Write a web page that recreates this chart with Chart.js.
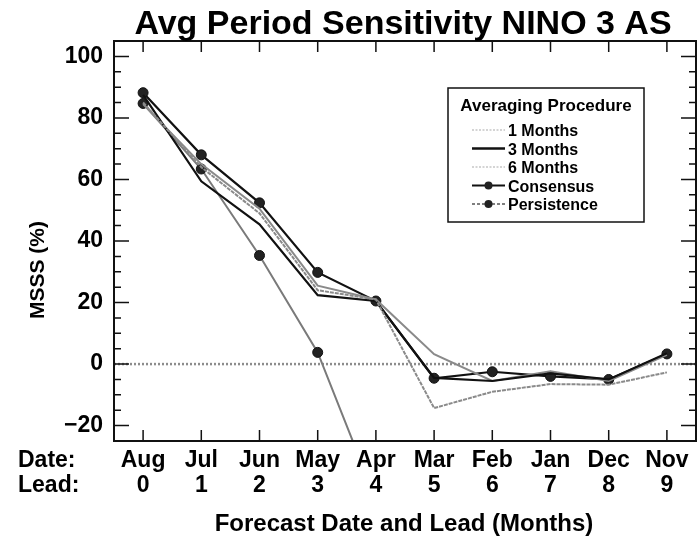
<!DOCTYPE html>
<html>
<head>
<meta charset="utf-8">
<script src="https://cdn.jsdelivr.net/npm/chart.js@4.4.0/dist/chart.umd.min.js"></script>
<style>
    html, body { margin: 0; padding: 0; background: #fff; }
</style>
</head>
<body>
<canvas id="sensChart" width="697" height="537"></canvas>
<script>
var dates = ["Aug", "Jul", "Jun", "May", "Apr", "Mar", "Feb", "Jan", "Dec", "Nov"];
var leads = [0, 1, 2, 3, 4, 5, 6, 7, 8, 9];
var yTicks = [-20, 0, 20, 40, 60, 80, 100];

var oneMonth    = [85, 64, 49, 24, 21, -14.3, -9, -6.5, -6.7, -2.7];
var threeMonth  = [87.5, 59.4, 45.4, 22.4, 20.5, -4.5, -5.5, -3, -5, 3.5];
var sixMonth    = [84.5, 65, 50.5, 25.5, 21, 3.2, -5.5, -2.3, -5.5, 3];
var consensus   = [88.2, 68, 52.4, 29.8, 20.5, -4.6, -2.5, -4, -5, 3.3];
var persistence = [84.7, 63.4, 35.3, 3.8, -44, null, null, null, null, null];

var FONT = '"Liberation Sans", Arial, Helvetica, sans-serif';
var GRAY = '#8a8a8a';

function pts(arr) {
    return leads.map(function (x, i) { return { x: x, y: arr[i] }; });
}

// frame, inward ticks, zero line, texts and the boxed legend
var decor = {
    id: 'decor',
    beforeDatasetsDraw: function (chart) {
        var c = chart.ctx, a = chart.chartArea, y0 = chart.scales.y.getPixelForValue(0);
        c.save();
        c.strokeStyle = '#8c8c8c';
        c.lineWidth = 2.5;
        c.setLineDash([2, 2]);
        c.beginPath();
        c.moveTo(a.left, y0);
        c.lineTo(a.right, y0);
        c.stroke();
        c.restore();
    },
    afterDraw: function (chart) {
        var c = chart.ctx, a = chart.chartArea, xs = chart.scales.x, ys = chart.scales.y;
        c.save();
        c.strokeStyle = '#111';
        c.lineWidth = 2;
        c.strokeRect(a.left, a.top, a.right - a.left, a.bottom - a.top);

        c.lineWidth = 1.5;
        c.beginPath();
        leads.forEach(function (v) {
            var px = xs.getPixelForValue(v);
            c.moveTo(px, a.bottom); c.lineTo(px, a.bottom - 11);
            c.moveTo(px, a.top); c.lineTo(px, a.top + 11);
        });
        for (var v = -20; v <= 100; v += 5) {
            var py = ys.getPixelForValue(v), len = (v % 20 === 0) ? 15 : 7;
            c.moveTo(a.left, py); c.lineTo(a.left + len, py);
            c.moveTo(a.right, py); c.lineTo(a.right - len, py);
        }
        c.stroke();

        c.fillStyle = '#000';
        c.textBaseline = 'alphabetic';
        c.textAlign = 'center';
        c.font = 'bold 34px ' + FONT;
        c.fillText('Avg Period Sensitivity NINO 3 AS', 403, 34);
        c.font = 'bold 24px ' + FONT;
        c.fillText('Forecast Date and Lead (Months)', 404, 531);

        c.textAlign = 'left';
        c.font = 'bold 23px ' + FONT;
        c.fillText('Date:', 18, 467);
        c.fillText('Lead:', 18, 492);

        c.save();
        c.translate(44, 270);
        c.rotate(-Math.PI / 2);
        c.textAlign = 'center';
        c.font = 'bold 21px ' + FONT;
        c.fillText('MSSS (%)', 0, 0);
        c.restore();

        // legend
        c.lineWidth = 1.5;
        c.strokeStyle = '#111';
        c.setLineDash([]);
        c.strokeRect(448, 88, 196, 134);
        c.textAlign = 'center';
        c.font = 'bold 17px ' + FONT;
        c.fillText('Averaging Procedure', 546, 111);
        c.textAlign = 'left';
        c.font = 'bold 16px ' + FONT;
        chart.data.datasets.forEach(function (ds, i) {
            var base = 136 + i * 18.5, ly = base - 6;
            c.save();
            c.strokeStyle = ds.legendColor || ds.borderColor;
            c.lineWidth = ds.legendWidth || ds.borderWidth;
            c.setLineDash(ds.legendDash || []);
            c.beginPath();
            c.moveTo(472, ly); c.lineTo(505, ly);
            c.stroke();
            if (ds.pointRadius > 0) {
                c.fillStyle = ds.pointBackgroundColor;
                c.beginPath();
                c.arc(488.5, ly, 4, 0, Math.PI * 2);
                c.fill();
            }
            c.restore();
            c.fillText(ds.label, 508, base);
        });
        c.restore();
    }
};

new Chart(document.getElementById('sensChart'), {
    type: 'line',
    data: {
        datasets: [
            {
                label: '1 Months', data: pts(oneMonth), borderColor: GRAY, borderWidth: 2,
                borderDash: [4, 1], pointRadius: 0, legendDash: [2, 1.5], legendColor: '#aaa', legendWidth: 1.2
            },
            {
                label: '3 Months', data: pts(threeMonth), borderColor: '#111', borderWidth: 2.2, pointRadius: 0,
                legendWidth: 2.5
            },
            {
                label: '6 Months', data: pts(sixMonth), borderColor: GRAY, borderWidth: 2, pointRadius: 0,
                legendDash: [2, 1.5], legendColor: '#aaa', legendWidth: 1.2
            },
            {
                label: 'Consensus', data: pts(consensus), borderColor: '#111', borderWidth: 2.2,
                pointRadius: 5, pointBackgroundColor: '#222', pointBorderColor: '#111', pointBorderWidth: 1
            },
            {
                label: 'Persistence', data: pts(persistence), borderColor: '#7a7a7a', borderWidth: 2, clip: 0,
                pointRadius: 5, pointBackgroundColor: '#222', pointBorderColor: '#111', pointBorderWidth: 1,
                legendDash: [3, 2], legendColor: '#555', legendWidth: 1.5
            }
        ]
    },
    options: {
        responsive: false,
        animation: false,
        layout: { autoPadding: false, padding: { top: 41, right: 1, left: 0, bottom: 0 } },
        plugins: { legend: { display: false }, tooltip: { enabled: false }, title: { display: false } },
        scales: {
            x: {
                type: 'linear', min: -0.5, max: 9.5,
                afterBuildTicks: function (s) { s.ticks = leads.map(function (v) { return { value: v }; }); },
                afterFit: function (s) { s.height = 96; s.paddingLeft = 0; s.paddingRight = 0; },
                grid: { display: false, drawTicks: false },
                border: { display: false },
                ticks: {
                    autoSkip: false, maxRotation: 0, padding: 8, color: '#000',
                    font: { family: FONT, size: 23, weight: 'bold', lineHeight: 1.05 },
                    callback: function (v) { return [dates[v], String(v)]; }
                }
            },
            y: {
                min: -25, max: 105,
                afterBuildTicks: function (s) { s.ticks = yTicks.map(function (v) { return { value: v }; }); },
                afterFit: function (s) { s.width = 114; },
                grid: { display: false, drawTicks: false },
                border: { display: false },
                ticks: {
                    padding: 11, color: '#000',
                    font: { family: FONT, size: 23, weight: 'bold' },
                    callback: function (v) { return v < 0 ? '\u2212' + (-v) : String(v); }
                }
            }
        }
    },
    plugins: [decor]
});
</script>
</body>
</html>
